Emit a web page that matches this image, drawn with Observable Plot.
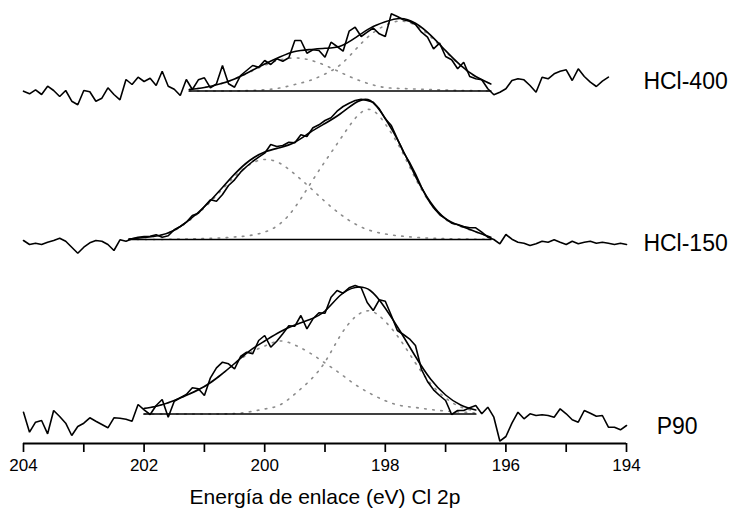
<!DOCTYPE html>
<html>
<head>
<meta charset="utf-8">
<script src="https://cdn.jsdelivr.net/npm/d3@7"></script>
<script src="https://cdn.jsdelivr.net/npm/@observablehq/plot@0.6"></script>
<style>
  html, body { margin: 0; padding: 0; background: #fff; }
  #chart { width: 739px; height: 511px; }
</style>
</head>
<body>
<div id="chart"></div>
<script>
// ---- data (binding energy in eV, intensity in arbitrary stacked units) ----
const energies = [204.0,203.9,203.8,203.7,203.6,203.5,203.4,203.3,203.2,203.1,
  203.0,202.9,202.8,202.7,202.6,202.5,202.4,202.3,202.2,202.1,
  202.0,201.9,201.8,201.7,201.6,201.5,201.4,201.3,201.2,201.1,
  201.0,200.9,200.8,200.7,200.6,200.5,200.4,200.3,200.2,200.1,
  200.0,199.9,199.8,199.7,199.6,199.5,199.4,199.3,199.2,199.1,
  199.0,198.9,198.8,198.7,198.6,198.5,198.4,198.3,198.2,198.1,
  198.0,197.9,197.8,197.7,197.6,197.5,197.4,197.3,197.2,197.1,
  197.0,196.9,196.8,196.7,196.6,196.5,196.4,196.3,196.2,196.1,
  196.0,195.9,195.8,195.7,195.6,195.5,195.4,195.3,195.2,195.1,
  195.0,194.9,194.8,194.7,194.6,194.5,194.4,194.3,194.2,194.1,194.0];

const samples = ["HCl-400", "HCl-150", "P90"];

const rawHCl400 = [352.3,349.7,353.7,349,357.3,353,347,353,342.3,338.7,
  353,351.7,342.3,345.3,355.7,349,343.7,364,359,366.3,
  362,365.3,358,372.3,357.3,354.3,348,364,354,
  363.7,365.7,355.7,359.7,378,359.7,356.3,368,373,378,
  376.3,383,379,384.7,382.3,385.7,403,403,390.3,393.7,
  393,386.3,401.3,397,392.3,412.3,416.3,407,411.3,415.5,
  409.7,407,429.7,427,423.7,422.3,419,411.3,406.3,394.7,
  400.3,387,383.7,374.7,381.3,367,364.7,363.7,354.7,348.7,
  351.3,354.7,363,364.7,363.7,358,351.3,366.3,364.7,369.7,
  372.3,373.7,363,374.7,367,361.3,357,362.3,366.3];

const rawHCl150 = [203,199,200.3,199,201.3,203,205.3,202.3,196.3,190.3,
  196.3,200.7,203,202.3,199,193,203.7,202.3,204.7,206.3,
  207,207.3,208.7,206.3,207.7,213.7,217,221.3,228,230.3,
  237,243.7,242.3,249,258,263.7,271.3,277,282,286.3,
  290.3,299,297,298,301.3,300.7,308.7,307,315.7,318.7,
  323,325.7,332.3,337,340.3,343,344.3,343,
  341.3,334.7,324.7,318,304.7,291.3,281.3,269.7,256.3,244.7,
  235.7,229,224.7,220.3,219,217,215.7,215.7,211.3,206.3,
  204,199.7,209,204.3,201.3,200.3,198,199.7,202.3,201.3,
  203.7,201.3,199,202.3,199.7,201.3,202.3,200.3,201.3,200.3,
  199,200.3,199];

const rawP90 = [31.3,11.3,21.3,23,9.7,33,27,20.3,8,17,
  20.3,25.7,22.3,19,15.7,25.7,25.3,24.3,22.3,39,
  33.7,29,38,44,26.3,42.3,45.7,49,55.7,54.7,
  48,65.7,75.7,81.3,79.7,74.7,87,91.3,89.7,103,
  108,96.3,102.3,109.7,117.7,117.3,128,114.7,124.7,130.7,
  130.3,146.3,153,150.3,155.7,158,155.7,141,
  133,143.7,142.3,128,113,109,104.7,98,74,62,
  53.7,48,43,29,33,33,35.7,38,29.7,36.3,
  26.3,2.3,7,20.3,31.3,24.7,29.7,28,28.7,28,
  26.3,34.7,29.7,23.7,21.3,33,30.3,27.3,28,16.3,
  16.3,13.7,18];

// fitted components (heights above each linear background)
const fitEHCl400 = [201.25,201.0,200.75,200.5,200.25,200.0,199.75,199.5,199.25,199.0,198.75,198.5,198.25,198.0,197.75,197.5,197.25,197.0,196.75,196.5,196.25];
const comp1HCl400 = [1.5,3.5,6.9,12.1,18.8,25.7,31,33,31,25.7,18.8,12.1,6.9,3.5,2.5,2,1.5,1,0.5,0.3,0];
const comp2HCl400 = [0,0,0,0,0.5,1.3,3,6.5,10.5,17,26,41,56,65.7,70,65.7,54.3,39.4,25.2,14.2,7.1];
const envHCl400 = [1.5,3.5,6.9,12.1,19.3,27,34,39.5,41.5,42.7,44.8,53.1,62.9,69.2,72.5,67.7,55.8,40.4,25.7,14.5,7.1];

const fitEHCl150 = [202.25,202.0,201.75,201.5,201.25,201.0,200.75,200.5,200.25,200.0,199.75,199.5,199.25,199.0,198.75,198.5,198.25,198.0,197.75,197.5,197.25,197.0,196.75,196.5,196.25];
const comp1HCl150 = [0.5,2,4,9,19,31.7,47.2,62.9,75,80,76.3,65.2,52,38,25.5,15.5,9,5.5,3.5,2.2,1.3,0.8,0.5,0.3,0.2];
const comp2HCl150 = [0,0,0,0.3,0.6,1,1.5,2.5,4,7.5,15.5,32,55,78,100,121,130,115.5,91,61,36,20,13,7.5,2];
const envHCl150 = [0.5,2,4,9.3,19.6,32.7,48.7,65.4,79,87.5,91.8,97.2,107,116,125.5,136.5,139,121,94.5,63.2,37.3,20.8,13.5,7.8,2.2];

const fitEP90 = [202.0,201.75,201.5,201.25,201.0,200.75,200.5,200.25,200.0,199.75,199.5,199.25,199.0,198.75,198.5,198.25,198.0,197.75,197.5,197.25,197.0,196.75,196.5];
const comp1P90 = [5.5,8.5,13.5,20,27.5,38,50,61,68,73,69,61,51,40.5,29.5,20.5,13.3,8.5,6.5,4.5,3,2,1];
const comp2P90 = [0,0,0,0,0,0,0.5,2.2,5,9,20,33.5,52,78,97,103,92.5,74,51,30.5,16,7,3];
const envP90 = [5.5,8.5,13.5,20,27.5,38,50.5,63.2,73,82,89,94.5,103,118.5,126.5,123.5,105.8,82.5,57.5,35,19,9,4];

// linear background level of each spectrum
const backgroundLevel = [352.5, 204, 29.5];

const tickValues = [204,203,202,201,200,199,198,197,196,195,194];
const tickLabelled = [204,202,200,198,196,194];
const xTitle = "Energía de enlace (eV) Cl 2p";

// ---- tables ----
const raws = [rawHCl400, rawHCl150, rawP90];
const fitEs = [fitEHCl400, fitEHCl150, fitEP90];
const c1s = [comp1HCl400, comp1HCl150, comp1P90];
const c2s = [comp2HCl400, comp2HCl150, comp2P90];
const envs = [envHCl400, envHCl150, envP90];

const rawRows = [], compRows = [], envRows = [], baseRows = [];
samples.forEach((s, k) => {
  raws[k].forEach((v, i) => rawRows.push({s, x: energies[i], y: v}));
  const base = backgroundLevel[k];
  fitEs[k].forEach((e, i) => {
    compRows.push({s, c: 1, x: e, y: base + c1s[k][i]});
    compRows.push({s, c: 2, x: e, y: base + c2s[k][i]});
    envRows.push({s, x: e, y: base + envs[k][i]});
  });
  const fe = fitEs[k];
  baseRows.push({s, x: fe[0], y: base});
  baseRows.push({s, x: fe[fe.length - 1], y: base});
});

// label layout (chart coordinates)
const labelLayout = [
  {text: samples[0], x: 193.72, y: 362},
  {text: samples[1], x: 193.72, y: 200},
  {text: samples[2], x: 193.50, y: 17}
];

const font = "'Liberation Sans', Arial, Helvetica, sans-serif";

const chart = Plot.plot({
  width: 739,
  height: 511,
  marginLeft: 23,
  marginRight: 113,
  marginTop: 13,
  marginBottom: 68,
  style: {fontFamily: font, fontSize: "17px", color: "#000", background: "#fff"},
  x: {domain: [204, 194]},
  y: {domain: [0, 430], axis: null},
  marks: [
    Plot.line(compRows, {x: "x", y: "y", z: d => d.s + d.c, curve: "natural",
      stroke: "#8c8c8c", strokeWidth: 1.6, strokeDasharray: "1.6,6.5", strokeLinecap: "round"}),
    Plot.line(baseRows, {x: "x", y: "y", z: "s", stroke: "#000", strokeWidth: 1.7}),
    Plot.line(envRows, {x: "x", y: "y", z: "s", curve: "natural", stroke: "#000", strokeWidth: 1.6}),
    Plot.line(rawRows, {x: "x", y: "y", z: "s", stroke: "#000", strokeWidth: 1.6, strokeLinejoin: "miter"}),
    Plot.ruleY([0], {stroke: "#000", strokeWidth: 2}),
    Plot.axisX({ticks: tickValues, tickSize: 9, tickPadding: 6, strokeWidth: 1.7,
      fontSize: 17, tickFormat: d => tickLabelled.includes(d) ? String(d) : "", label: null}),
    Plot.text(labelLayout, {x: "x", y: "y", text: "text", textAnchor: "start", fontSize: 23, fill: "#000"}),
    Plot.text([xTitle], {x: 199, y: -54, text: d => d, fontSize: 21, fill: "#000"})
  ]
});
document.getElementById("chart").appendChild(chart);
</script>
</body>
</html>
